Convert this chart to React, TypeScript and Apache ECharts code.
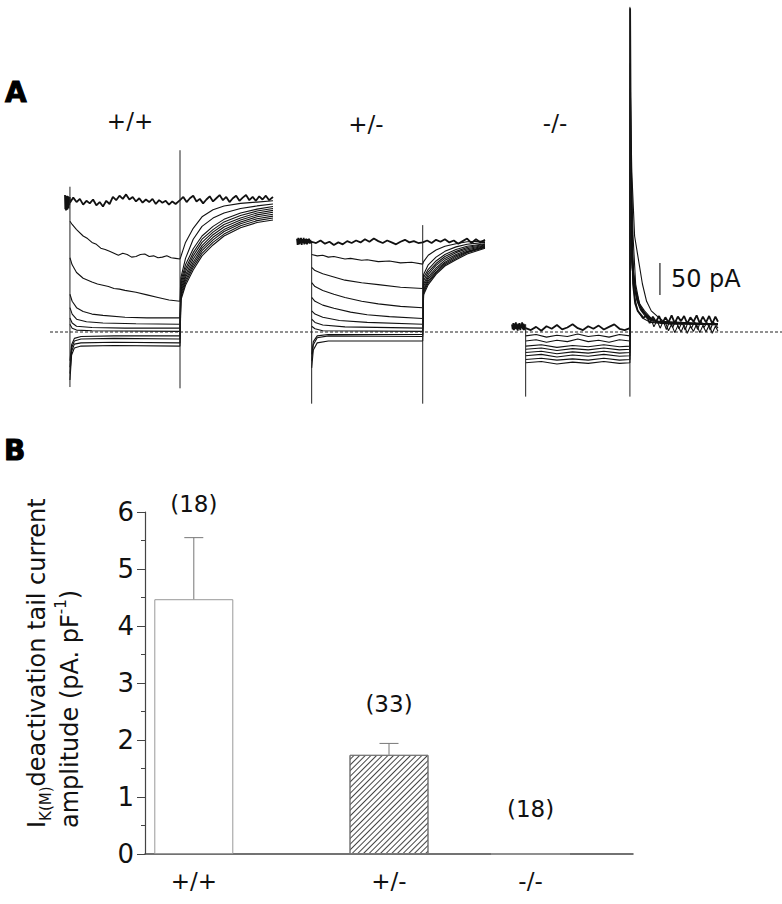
import React, { useEffect, useRef } from 'react';
import * as echarts from 'echarts';

// ---------------- Panel B data ----------------
const GENOTYPES = ['+/+', '+/-', '-/-'];
const MEAN = [4.47, 1.74, 0];
const SEM = [1.08, 0.2, 0];
const N_CELLS = ['(18)', '(33)', '(18)'];
const BAR_X = [1, 5, 7.9];
const N_LABEL_Y = [6.14, 2.63, 0.79];

// ---------------- Panel A data (time in ms, current in pA) ----------------
// +/+ recording (step from 0 to 1000 ms)
const PP_T1 = [[-45,214],[-42,192],[-39,212],[-36,190],[-33,210],[-30,195],[-27,213],[-24,191],[-21,209],[-18,196],[-15,212],[-12,193],[-9,208],[-6,198],[-3,211],[0,202],
[30,210],[60,203],[90,208],[120,199],[150,205],[180,201],[210,207],[240,198],[270,203],[300,196],[330,205],[360,200],[390,211],[420,206],[450,213],[480,208],[510,215],[540,207],[570,211],[600,204],[630,209],[660,202],[690,207],[720,203],[750,208],[780,200],[810,206],[840,202],[870,205],[900,199],[930,204],[960,200],[1000,206],
[1030,211],[1060,203],[1090,209],[1120,213],[1150,204],[1180,208],[1210,201],[1240,207],[1270,212],[1300,204],[1330,209],[1360,214],[1390,206],[1420,211],[1450,203],[1480,209],[1510,213],[1540,205],[1570,210],[1600,214],[1630,206],[1660,211],[1690,205],[1720,212],[1750,207],[1780,213],[1810,206],[1845,211]];
const PP_T2 = [[0,173],[20,168],[60,160],[120,150],[160,146],[200,140],[240,137],[280,131],[320,129],[360,126],[400,123],[440,120],[480,123],[520,121],[560,117],[600,118],[640,121],[680,122],[720,118],[760,119],[800,116],[840,117],[880,119],[920,116],[960,115],[1000,114],
[1008,118],[1050,140],[1120,162],[1200,180],[1300,191],[1400,197],[1550,201],[1700,203],[1845,205]];
const PP_T3 = [[0,116],[20,105],[60,93],[120,84],[200,78],[250,75],[300,73],[350,71],[400,68],[450,67],[500,65],[600,62],[700,58],[800,54],[900,50],[1000,48],
[1008,85],[1050,115],[1120,145],[1200,165],[1300,178],[1400,186],[1550,193],[1700,197],[1845,200]];
const PP_T4 = [[0,59],[20,48],[60,38],[120,32],[200,28],[300,26],[500,23],[700,22],[1000,22],
[1008,80],[1050,105],[1120,130],[1200,150],[1300,165],[1400,176],[1550,186],[1700,192],[1845,196]];
const PP_T5 = [[0,38],[20,28],[60,20],[150,16],[300,14],[600,13],[1000,12],
[1008,75],[1050,99],[1120,124],[1200,145],[1300,160],[1400,172],[1550,182],[1700,189],[1845,193]];
const PP_T6 = [[0,22],[20,14],[60,9],[200,7],[500,6],[1000,6],
[1008,70],[1050,94],[1120,119],[1200,140],[1300,156],[1400,168],[1550,178],[1700,186],[1845,190]];
const PP_T7 = [[0,12],[20,6],[60,3],[200,2],[1000,1],
[1008,66],[1050,89],[1120,114],[1200,135],[1300,152],[1400,164],[1550,175],[1700,183],[1845,187]];
const PP_T8 = [[0,-45],[15,-20],[40,-10],[100,-7],[400,-6],[1000,-6],
[1008,62],[1050,85],[1120,109],[1200,131],[1300,148],[1400,160],[1550,172],[1700,180],[1845,184]];
const PP_T9 = [[0,-55],[15,-25],[40,-14],[100,-11],[400,-10],[1000,-11],
[1008,58],[1050,81],[1120,105],[1200,127],[1300,144],[1400,157],[1550,169],[1700,177],[1845,181]];
const PP_T10 = [[0,-65],[15,-30],[40,-19],[100,-17],[400,-16],[1000,-17],
[1008,54],[1050,77],[1120,101],[1200,123],[1300,140],[1400,153],[1550,166],[1700,174],[1845,178]];
const PP_T11 = [[0,-75],[15,-36],[40,-25],[100,-22],[400,-21],[1000,-22],
[1008,50],[1050,73],[1120,97],[1200,119],[1300,136],[1400,150],[1550,163],[1700,171],[1845,175]];
const PP_TRANSIENTS = [[0, 227, -86], [1000, 284, -88]];

// +/- recording
const PM_T1 = [[-132,146],[-126,136],[-120,147],[-114,137],[-108,146],[-102,138],[-96,147],[-90,136],[-84,145],[-78,139],[-72,147],[-66,137],[-60,145],[-54,138],[-48,146],[-42,137],[-36,145],[-30,139],[-24,146],[-18,138],[-12,144],[-6,139],[0,141],
[40,139],[80,143],[120,138],[160,141],[200,136],[240,140],[280,137],[320,142],[360,139],[400,143],[440,140],[480,145],[520,141],[560,146],[600,142],[640,139],[680,143],[720,140],[760,137],[800,141],[840,144],[880,140],[920,142],[960,139],[1000,140],
[1040,143],[1080,139],[1120,144],[1160,141],[1200,145],[1240,140],[1280,143],[1320,138],[1360,142],[1400,146],[1440,139],[1480,145],[1520,140],[1561,144]];
const PM_T2 = [[0,121],[50,119],[100,120],[150,117],[200,118],[300,114],[350,115],[450,112],[500,113],[600,110],[700,111],[800,108],[900,109],[1000,106],
[1008,110],[1050,120],[1120,128],[1200,134],[1300,138],[1400,141],[1561,142]];
const PM_T3 = [[0,101],[30,96],[100,91],[200,86],[300,81],[450,77],[600,74],[800,70],[1000,68],
[1008,90],[1050,105],[1120,117],[1200,126],[1300,133],[1400,137],[1561,140]];
const PM_T4 = [[0,77],[30,71],[100,65],[200,59],[300,54],[450,48],[600,44],[800,40],[1000,38],
[1008,85],[1050,98],[1120,111],[1200,121],[1300,129],[1400,134],[1561,138]];
const PM_T5 = [[0,54],[30,48],[100,42],[200,37],[350,31],[500,27],[700,24],[1000,21],
[1008,80],[1050,94],[1120,107],[1200,118],[1300,126],[1400,132],[1561,137]];
const PM_T6 = [[0,33],[30,28],[100,23],[250,18],[500,15],[1000,12],
[1008,75],[1050,90],[1120,104],[1200,115],[1300,124],[1400,130],[1561,136]];
const PM_T7 = [[0,20],[30,15],[100,11],[300,8],[1000,6],
[1008,71],[1050,86],[1120,100],[1200,112],[1300,121],[1400,128],[1561,135]];
const PM_T8 = [[0,9],[30,5],[100,2],[1000,1],
[1008,67],[1050,83],[1120,97],[1200,109],[1300,119],[1400,126],[1561,134]];
const PM_T9 = [[0,-35],[15,-15],[50,-6],[150,-4],[1000,-4],
[1008,64],[1050,80],[1120,94],[1200,107],[1300,117],[1400,125],[1561,133]];
const PM_T10 = [[0,-45],[15,-20],[50,-9],[150,-6],[1000,-7],
[1008,61],[1050,77],[1120,92],[1200,105],[1300,115],[1400,124],[1561,132]];
const PM_T11 = [[0,-56],[15,-28],[50,-17],[150,-14],[1000,-14],
[1008,58],[1050,74],[1120,90],[1200,103],[1300,113],[1400,122],[1561,131]];
const PM_TRANSIENTS = [[0, 139, -112], [1000, 167, -112]];

// -/- recording
const MM_T1 = [[-131,12],[-124,4],[-118,14],[-112,3],[-106,13],[-100,5],[-94,15],[-88,4],[-82,12],[-76,2],[-70,13],[-64,5],[-58,14],[-52,3],[-46,12],[-40,6],[-34,15],[-28,4],[-22,13],[-16,3],[-10,12],[-4,5],
[0,6],[50,3],[100,8],[150,2],[200,9],[250,5],[300,11],[350,4],[400,7],[450,12],[500,6],[550,3],[600,9],[650,5],[700,10],[750,4],[800,8],[850,12],[900,5],[950,3],[1000,6],
[1002,506],[1008,300],[1018,180],[1030,75],[1050,45],[1075,33],[1100,28],[1130,22],
[1160,26],[1190,14],[1220,24],[1250,16],[1280,25],[1310,13],[1340,23],[1370,15],[1400,26],[1430,14],[1460,24],[1490,17],[1520,25],[1550,13],[1580,23],[1610,16],[1640,26],[1670,14],[1700,24],[1730,15],[1760,25],[1790,13],[1820,24],[1845,16]];
const MM_T2 = [[0,-6],[100,-4],[200,-8],[300,-5],[400,-7],[500,-3],[600,-7],[700,-5],[800,-8],[900,-4],[1000,-6],
[1003,420],[1012,260],[1030,150],[1055,75],[1090,45],[1140,33],[1200,22],
[1230,8],[1260,18],[1290,6],[1320,17],[1350,4],[1380,16],[1410,7],[1440,18],[1470,5],[1500,15],[1530,3],[1560,17],[1590,6],[1620,16],[1650,4],[1680,18],[1710,7],[1740,15],[1770,3],[1800,16],[1845,6]];
const MM_T3 = [[0,-14],[100,-12],[200,-16],[300,-13],[400,-15],[500,-11],[600,-15],[700,-13],[800,-16],[900,-12],[1000,-14],
[1004,380],[1018,250],[1045,150],[1120,75],[1160,48],[1205,33],[1280,22],[1340,15],
[1370,2],[1400,12],[1430,-1],[1460,10],[1490,0],[1520,11],[1550,-2],[1580,9],[1610,1],[1640,12],[1670,-1],[1700,10],[1730,0],[1760,11],[1790,-2],[1820,9],[1845,1]];
const MM_T4 = [[0,-22],[150,-20],[300,-24],[450,-21],[600,-23],[750,-20],[900,-23],[1000,-22],[1002,300],[1010,200],[1025,100],[1045,55],[1075,33],[1120,22],[1200,15],[1400,12],[1845,12]];
const MM_T5 = [[0,-27],[150,-25],[300,-29],[450,-26],[600,-28],[750,-25],[900,-28],[1000,-27],[1003,250],[1015,160],[1035,90],[1065,50],[1100,35],[1160,22],[1250,15],[1845,13]];
const MM_T6 = [[0,-32],[150,-30],[300,-34],[450,-31],[600,-33],[750,-30],[900,-33],[1000,-32],[1003,220],[1015,140],[1040,80],[1080,45],[1130,30],[1200,20],[1300,14],[1845,11]];
const MM_T7 = [[0,-37],[150,-35],[300,-39],[450,-36],[600,-38],[750,-35],[900,-38],[1000,-37],[1003,200],[1020,120],[1050,70],[1100,40],[1160,26],[1250,17],[1845,12]];
const MM_T8 = [[0,-43],[150,-41],[300,-44],[450,-42],[600,-44],[750,-41],[900,-44],[1000,-43],[1003,180],[1020,110],[1055,60],[1110,35],[1180,22],[1300,14],[1845,12]];
const MM_T9 = [[0,-48],[150,-46],[300,-50],[450,-47],[600,-49],[750,-46],[900,-49],[1000,-48],[1003,160],[1020,100],[1060,55],[1120,32],[1200,20],[1300,14],[1845,13]];
const MM_TRANSIENTS = [[0, 12, -101], [1000, 508, -101]];

const SCALE_BAR_PA = 50;
const SCALE_BAR_AT = [1288, 58];

const PP_TRACES = [PP_T1, PP_T2, PP_T3, PP_T4, PP_T5, PP_T6, PP_T7, PP_T8, PP_T9, PP_T10, PP_T11];
const PM_TRACES = [PM_T1, PM_T2, PM_T3, PM_T4, PM_T5, PM_T6, PM_T7, PM_T8, PM_T9, PM_T10, PM_T11];
const MM_TRACES = [MM_T1, MM_T2, MM_T3, MM_T4, MM_T5, MM_T6, MM_T7, MM_T8, MM_T9];

const FONT = 'DejaVu Sans';
const INK = '#111';

function lineSeries(data: number[][], gi: number, width = 1, color = INK, type: any = 'solid') {
  return {
    type: 'line', xAxisIndex: gi, yAxisIndex: gi, data, showSymbol: false, symbol: 'none',
    lineStyle: { color, width, type }, silent: true, z: 2, animation: false,
  };
}

function recordingSeries(traces: number[][][], transients: number[][], gi: number) {
  const s: any[] = traces.map((t, i) => lineSeries(t, gi, i === 0 ? 1.8 : 1.1));
  transients.forEach(([t, top, bot]) => s.push(lineSeries([[t, top], [t, bot]], gi, 1, '#222')));
  return s;
}

const Y_MIN = -125;
const Y_MAX = 512.5;
const A_TOP = 4;
const A_HEIGHT = 408;

export default function App() {
  const ref = useRef<HTMLDivElement>(null);
  useEffect(() => {
    const chart = echarts.init(ref.current!, null, { renderer: 'svg' });
    const aGrids = [
      { left: 65, width: 208 },
      { left: 297, width: 188 },
      { left: 512, width: 206 },
      { left: 50, width: 732 },
    ];
    const aX = [[-45, 1845], [-132, 1561], [-131, 1845], [0, 1]];
    const grid: any[] = aGrids.map(g => ({ ...g, top: A_TOP, height: A_HEIGHT, outerBoundsMode: 'none' }));
    grid.push({ left: 145, top: 512, width: 488, height: 342, outerBoundsMode: 'none' });
    const xAxis: any[] = aX.map((r, i) => ({ gridIndex: i, type: 'value', min: r[0], max: r[1], show: false }));
    const yAxis: any[] = aX.map((_, i) => ({ gridIndex: i, type: 'value', min: Y_MIN, max: Y_MAX, show: false }));
    const axisCol = '#444';
    xAxis.push({
      gridIndex: 4, type: 'value', min: 0, max: 10,
      axisLine: { show: true, lineStyle: { color: axisCol, width: 1.5 } },
      axisTick: { show: false }, splitLine: { show: false },
      axisLabel: {
        customValues: BAR_X, formatter: (v: number) => GENOTYPES[BAR_X.indexOf(v)] ?? '',
        fontFamily: FONT, fontSize: 23, color: INK, margin: 15,
      },
    });
    yAxis.push({
      gridIndex: 4, type: 'value', min: 0, max: 6, interval: 1,
      axisLine: { show: true, lineStyle: { color: axisCol, width: 1.2 } },
      axisTick: { show: true, length: 8, lineStyle: { color: axisCol, width: 1 } },
      minorTick: { show: true, splitNumber: 2, length: 4, lineStyle: { color: axisCol, width: 1 } },
      splitLine: { show: false }, minorSplitLine: { show: false },
      axisLabel: { fontFamily: FONT, fontSize: 26, color: INK, margin: 11 },
    });

    const series: any[] = [
      ...recordingSeries(PP_TRACES, PP_TRANSIENTS, 0),
      ...recordingSeries(PM_TRACES, PM_TRANSIENTS, 1),
      ...recordingSeries(MM_TRACES, MM_TRANSIENTS, 2),
      lineSeries([[0, 0], [1, 0]], 3, 1, '#222', [3, 2]),
      lineSeries([SCALE_BAR_AT, [SCALE_BAR_AT[0], SCALE_BAR_AT[1] + SCALE_BAR_PA]], 2, 1.2, '#222'),
      {
        type: 'scatter', xAxisIndex: 2, yAxisIndex: 2, symbolSize: 0, silent: true, clip: false,
        itemStyle: { opacity: 1 },
        data: [[SCALE_BAR_AT[0], SCALE_BAR_AT[1] + SCALE_BAR_PA / 2]],
        label: { show: true, position: 'right', distance: 11, formatter: SCALE_BAR_PA + ' pA', fontFamily: FONT, fontSize: 24, color: INK },
      },
      {
        type: 'bar', xAxisIndex: 4, yAxisIndex: 4, barWidth: 79, silent: true, z: 2,
        data: MEAN.map((m, i) => ({
          value: [BAR_X[i], m],
          itemStyle: i === 1
            ? { color: '#fff', borderColor: '#777', borderWidth: 1,
                decal: { symbol: 'rect', symbolSize: 1, dashArrayX: [1, 0], dashArrayY: [1, 3], rotation: -Math.PI / 4, color: '#444' } }
            : { color: '#fff', borderColor: '#999', borderWidth: 1 },
        })),
      },
      {
        type: 'custom', xAxisIndex: 4, yAxisIndex: 4, silent: true, z: 3, clip: false,
        data: MEAN.map((m, i) => [BAR_X[i], m, SEM[i]]),
        encode: { x: 0, y: 1 },
        renderItem: (params: any, api: any) => {
          const x = api.value(0), m = api.value(1), s = api.value(2);
          if (!s) return { type: 'group', children: [] };
          const p0 = api.coord([x, m]);
          const p1 = api.coord([x, m + s]);
          const st = { stroke: '#777', lineWidth: 1 };
          return {
            type: 'group', children: [
              { type: 'line', shape: { x1: p0[0], y1: p0[1], x2: p1[0], y2: p1[1] }, style: st },
              { type: 'line', shape: { x1: p1[0] - 9.5, y1: p1[1], x2: p1[0] + 9.5, y2: p1[1] }, style: st },
            ],
          };
        },
      },
      {
        type: 'scatter', xAxisIndex: 4, yAxisIndex: 4, symbolSize: 0, silent: true, clip: false,
        itemStyle: { opacity: 1 },
        data: BAR_X.map((x, i) => [x, N_LABEL_Y[i]]),
        label: { show: true, position: 'inside', formatter: (p: any) => N_CELLS[p.dataIndex], fontFamily: FONT, fontSize: 23, color: INK },
      },
    ];

    const graphic: any[] = [
      { type: 'text', x: 5, y: 78, style: { text: 'A', fontFamily: FONT, fontWeight: 'bold', fontSize: 28, fill: '#000', stroke: '#000', lineWidth: 1 } },
      { type: 'text', x: 4, y: 436, style: { text: 'B', fontFamily: FONT, fontWeight: 'bold', fontSize: 28, fill: '#000', stroke: '#000', lineWidth: 1 } },
      ...[130, 366, 555].map((cx, i) => ({
        type: 'text', x: cx, y: [121, 124, 123][i],
        style: { text: GENOTYPES[i], fontFamily: FONT, fontSize: 23, fill: INK, align: 'center', verticalAlign: 'middle' },
      })),
      {
        type: 'text', x: 20, y: 828, rotation: Math.PI / 2,
        style: {
          text: '{m|I}{sub|K(M)}{m|deactivation tail current}\n{m|amplitude (pA. pF}{sup|-1}{m|)}',
          align: 'left', verticalAlign: 'top', fill: INK,
          rich: {
            m: { fontFamily: FONT, fontSize: 24, lineHeight: 33, fill: INK },
            sub: { fontFamily: FONT, fontSize: 15, lineHeight: 16, verticalAlign: 'bottom', fill: INK },
            sup: { fontFamily: FONT, fontSize: 15, lineHeight: 16, verticalAlign: 'top', fill: INK },
          },
        },
      },
    ];

    chart.setOption({ animation: false, backgroundColor: '#fff', grid, xAxis, yAxis, series, graphic });
    return () => chart.dispose();
  }, []);
  return <div ref={ref} style={{ position: 'fixed', left: 0, top: 0, width: 782, height: 904 }} />;
}
